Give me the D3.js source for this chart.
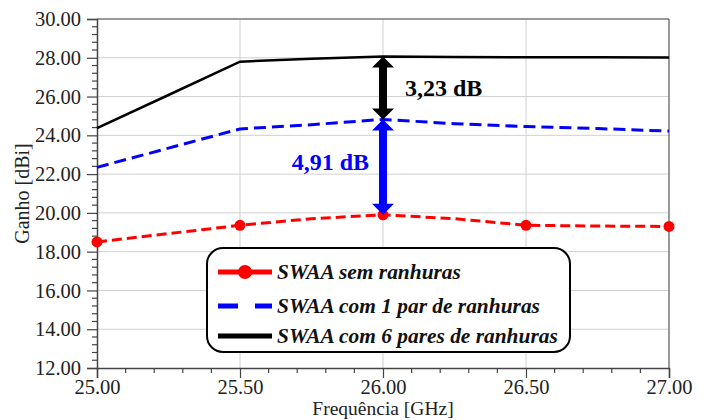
<!DOCTYPE html>
<html>
<head>
<meta charset="utf-8">
<script src="https://cdn.jsdelivr.net/npm/d3@7"></script>
<style>
  body { margin: 0; background: #fff; }
  svg text { font-family: "Liberation Serif", "Times New Roman", Times, "DejaVu Serif", serif; }
</style>
</head>
<body>
<svg id="chart"></svg>
<script>
// data
const freq = [25.00, 25.25, 25.50, 25.75, 26.00, 26.25, 26.50, 26.75, 27.00];
const semRanhuras = [18.50, 18.93, 19.36, 19.70, 19.90, 19.70, 19.36, 19.32, 19.30];
const umPar = [22.35, 23.34, 24.33, 24.55, 24.82, 24.60, 24.45, 24.35, 24.22];
const seisPares = [24.37, 26.08, 27.80, 27.95, 28.06, 28.04, 28.03, 28.03, 28.02];
const markerFreq = [25.00, 25.50, 26.00, 26.50, 27.00];
const xTicks = [25.00, 25.50, 26.00, 26.50, 27.00];
const yTicks = [12, 14, 16, 18, 20, 22, 24, 26, 28, 30];
const legendLabels = ["SWAA sem ranhuras", "SWAA com 1 par de ranhuras", "SWAA com 6 pares de ranhuras"];
// annotations: [freq, from, to, label]
const diffBlack = [26.00, 28.06, 24.82, "3,23 dB"];
const diffBlue = [26.00, 24.82, 19.90, "4,91 dB"];

const FONT = "'Liberation Serif', 'Times New Roman', Times, 'DejaVu Serif', serif";
const W = 707, H = 420;
const margin = { top: 19, right: 38, bottom: 52, left: 97 };
const width = W - margin.left - margin.right;
const height = H - margin.top - margin.bottom;

const svg = d3.select("#chart").attr("width", W).attr("height", H);
const g = svg.append("g").attr("transform", `translate(${margin.left},${margin.top})`);

const x = d3.scaleLinear().domain([25, 27]).range([0, width]);
const y = d3.scaleLinear().domain([12, 30]).range([height, 0]);

// grid
g.append("g").selectAll("line").data(xTicks.slice(1, -1)).enter().append("line")
    .attr("x1", d => x(d)).attr("x2", d => x(d)).attr("y1", 0).attr("y2", height)
    .attr("stroke", "#d0d0d0").attr("stroke-width", 1);
g.append("g").selectAll("line").data(yTicks.slice(1, -1)).enter().append("line")
    .attr("x1", 0).attr("x2", width).attr("y1", d => y(d)).attr("y2", d => y(d))
    .attr("stroke", "#d0d0d0").attr("stroke-width", 1);

// frame top/right
g.append("line").attr("x1", 0).attr("x2", width).attr("y1", 0).attr("y2", 0)
    .attr("stroke", "#777").attr("stroke-width", 1.5);
g.append("line").attr("x1", width).attr("x2", width).attr("y1", 0).attr("y2", height)
    .attr("stroke", "#777").attr("stroke-width", 1.5);

// minor ticks
const xMinor = d3.range(25, 27.001, 0.1).filter(v => Math.abs(v * 2 - Math.round(v * 2)) > 0.01);
const yMinor = d3.range(12, 30.001, 0.4).filter(v => Math.abs(v / 2 - Math.round(v / 2)) > 0.01);

const xAxis = g.append("g").attr("transform", `translate(0,${height})`)
    .call(d3.axisBottom(x).tickValues(xTicks).tickFormat(d3.format(".2f")).tickSize(10).tickPadding(1));
const yAxis = g.append("g")
    .call(d3.axisLeft(y).tickValues(yTicks).tickFormat(d3.format(".2f")).tickSize(10).tickPadding(6));

[xAxis, yAxis].forEach(a => {
    a.attr("font-family", FONT).attr("font-size", 20.5);
    a.select(".domain").attr("stroke", "#444").attr("stroke-width", 1.5);
    a.selectAll(".tick line").attr("stroke", "#444").attr("stroke-width", 1.2);
    a.selectAll(".tick text").attr("fill", "#222");
});

xAxis.selectAll(".minor").data(xMinor).enter().append("line")
    .attr("x1", d => x(d)).attr("x2", d => x(d)).attr("y1", 0).attr("y2", 5)
    .attr("stroke", "#444").attr("stroke-width", 1.2);
yAxis.selectAll(".minor").data(yMinor).enter().append("line")
    .attr("y1", d => y(d)).attr("y2", d => y(d)).attr("x1", 0).attr("x2", -5)
    .attr("stroke", "#444").attr("stroke-width", 1.2);

// lines
const line = d3.line().x((d, i) => x(freq[i])).y(d => y(d));

g.append("path").datum(seisPares).attr("fill", "none")
    .attr("stroke", "#000").attr("stroke-width", 2.5).attr("d", line);
g.append("path").datum(umPar).attr("fill", "none")
    .attr("stroke", "#0000ff").attr("stroke-width", 3).attr("stroke-dasharray", "12,6").attr("d", line);
g.append("path").datum(semRanhuras).attr("fill", "none")
    .attr("stroke", "#ff0000").attr("stroke-width", 3).attr("stroke-dasharray", "10,5").attr("d", line);

g.selectAll(".mk").data(markerFreq).enter().append("circle")
    .attr("cx", d => x(d))
    .attr("cy", d => y(semRanhuras[freq.indexOf(d)]))
    .attr("r", 5.5).attr("fill", "#ff0000");

// double-headed arrows
function arrow(a, color) {
    const cx = x(a[0]), y1 = y(a[1]), y2 = y(a[2]);
    const hw = 11, hh = 11, sw = 4;
    const pts = [
        [cx, y1], [cx + hw, y1 + hh], [cx + sw, y1 + hh], [cx + sw, y2 - hh], [cx + hw, y2 - hh],
        [cx, y2], [cx - hw, y2 - hh], [cx - sw, y2 - hh], [cx - sw, y1 + hh], [cx - hw, y1 + hh]
    ];
    g.append("polygon").attr("points", pts.map(p => p.join(",")).join(" ")).attr("fill", color);
}
arrow(diffBlack, "#000");
arrow(diffBlue, "#0000ff");

g.append("text").attr("x", x(diffBlack[0]) + 22).attr("y", (y(diffBlack[1]) + y(diffBlack[2])) / 2 + 8)
    .attr("font-family", FONT)
    .attr("fill", "#000").style("font-size", "24px").style("font-weight", "bold").text(diffBlack[3]);
g.append("text").attr("x", x(diffBlue[0]) - 14).attr("y", (y(diffBlue[1]) + y(diffBlue[2])) / 2 + 3)
    .attr("text-anchor", "end").attr("font-family", FONT)
    .attr("fill", "#0000ff").style("font-size", "24px").style("font-weight", "bold").text(diffBlue[3]);

// legend
const lg = svg.append("g").attr("transform", "translate(207,248)");
lg.append("rect").attr("width", 363).attr("height", 104).attr("rx", 16).attr("ry", 16)
    .attr("fill", "#fff").attr("stroke", "#000").attr("stroke-width", 2);
const styles = [
    { color: "#ff0000", dash: null, marker: true },
    { color: "#0000ff", dash: "20,17", marker: false },
    { color: "#000", dash: null, marker: false }
];
const rowY = [24, 58, 88];
legendLabels.forEach((lab, i) => {
    const s = styles[i];
    lg.append("line").attr("x1", 11).attr("x2", 65).attr("y1", rowY[i]).attr("y2", rowY[i])
        .attr("stroke", s.color).attr("stroke-width", 5)
        .attr("stroke-dasharray", s.dash);
    if (s.marker) lg.append("circle").attr("cx", 38).attr("cy", rowY[i]).attr("r", 7).attr("fill", s.color);
    lg.append("text").attr("x", 70).attr("y", rowY[i] + 7).attr("font-family", FONT)
        .style("font-size", "21.4px").style("font-weight", "bold").style("font-style", "italic")
        .attr("fill", "#111").text(lab);
});

// axis titles
svg.append("text").attr("x", margin.left + width / 2).attr("y", 415)
    .attr("text-anchor", "middle").attr("font-family", FONT).style("font-size", "19.5px").attr("fill", "#222")
    .text("Frequência [GHz]");
svg.append("text").attr("transform", `translate(29,${margin.top + height / 2}) rotate(-90)`)
    .attr("text-anchor", "middle").attr("font-family", FONT).style("font-size", "20px").attr("fill", "#222")
    .text("Ganho [dBi]");
</script>
</body>
</html>
